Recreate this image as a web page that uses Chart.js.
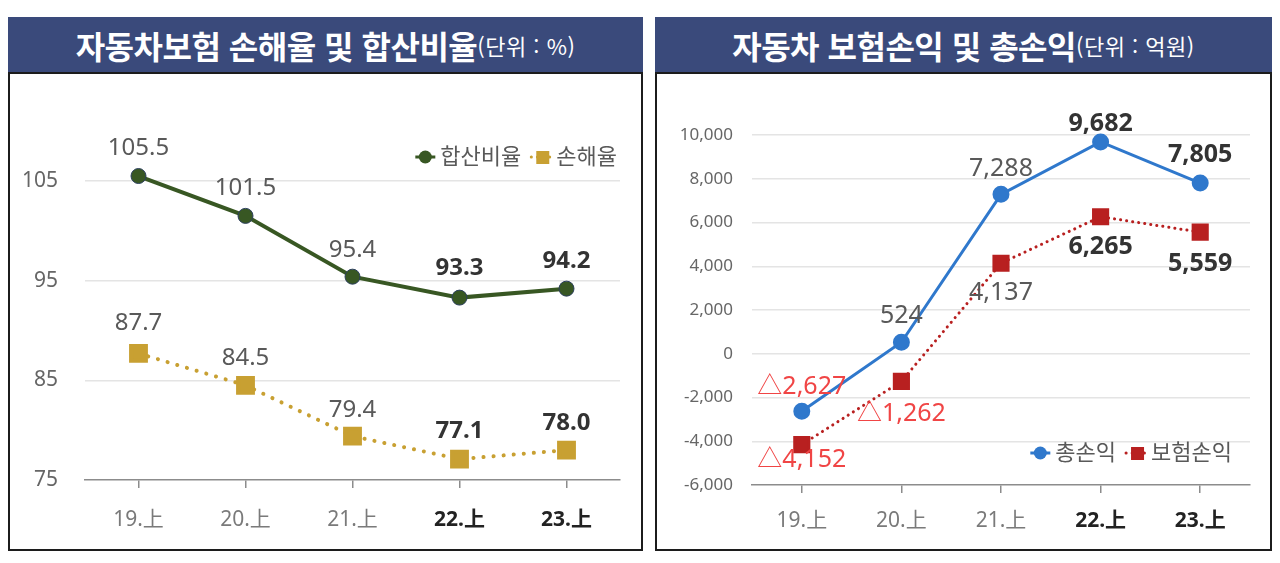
<!DOCTYPE html>
<html lang="ko">
<head>
<meta charset="utf-8">
<script src="https://cdn.jsdelivr.net/npm/chart.js@4"></script>
<style>
  body { margin: 0; background: #fff; width: 1280px; height: 563px; position: relative; overflow: hidden;
         font-family: "Noto Sans", "Noto Sans CJK KR", sans-serif; }
  .panel { position: absolute; top: 17px; }
  .head { height: 55px; background: #3a4a7b; color: #fff; display: flex; align-items: center; justify-content: center;
          font-family: "Noto Sans CJK KR", sans-serif; font-weight: 700; font-size: 32px; letter-spacing: -0.5px; }
  .head small { font-size: 22px; font-weight: 400; letter-spacing: 0.5px; }
  .body { border: 2px solid #1c1c1c; height: 475px; }
  canvas { display: block; }
</style>
</head>
<body>
<div class="panel" style="left:8px;width:635px">
  <div class="head">자동차보험 손해율 및 합산비율<small>(단위 : %)</small></div>
  <div class="body"><canvas id="ratio" width="631" height="475"></canvas></div>
</div>
<div class="panel" style="left:655px;width:617px">
  <div class="head">자동차 보험손익 및 총손익<small>(단위 : 억원)</small></div>
  <div class="body"><canvas id="profit" width="613" height="475"></canvas></div>
</div>
<script>
const periods = ['19.上', '20.上', '21.上', '22.上', '23.上']
const combinedRatio = [105.5, 101.5, 95.4, 93.3, 94.2]
const lossRatio = [87.7, 84.5, 79.4, 77.1, 78.0]
const totalProfit = [-2627, 524, 7288, 9682, 7805]
const insuranceProfit = [-4152, -1262, 4137, 6265, 5559]

const FONT = '"Noto Sans", "Noto Sans CJK KR", sans-serif'
const GREEN = '#385723'
const GOLD = '#c8a032'
const BLUE = '#2f78cc'
const RED = '#b82020'

const comma = v => Math.abs(v).toLocaleString('en-US')

// value labels next to each point
const valueLabels = {
  id: 'valueLabels',
  afterDatasetsDraw (chart, args, opts) {
    const ctx = chart.ctx
    chart.data.datasets.forEach((ds, i) => {
      chart.getDatasetMeta(i).data.forEach((pt, j) => {
        const v = ds.data[j]
        const bold = j >= opts.boldFrom
        ctx.save()
        ctx.font = (bold ? 'bold ' : '') + opts.size + 'px ' + FONT
        ctx.fillStyle = v < 0 ? '#f04545' : (bold ? '#333' : '#595959')
        ctx.textAlign = 'center'
        ctx.textBaseline = 'middle'
        ctx.fillText(opts.format(v), pt.x, pt.y + ds.labelDy[j])
        ctx.restore()
      })
    })
  }
}

// excel style legend: short line with marker, then text
const lineLegend = {
  id: 'lineLegend',
  afterDraw (chart, args, opts) {
    const ctx = chart.ctx
    const area = chart.chartArea
    ctx.save()
    ctx.font = opts.size + 'px ' + FONT
    const items = chart.data.datasets.map(ds => ({ ds, w: 24 + 3 + ctx.measureText(ds.label).width }))
    const total = items.reduce((s, it) => s + it.w, 0) + 8 * (items.length - 1)
    let x = area.right + opts.dx - total
    const y = (opts.fromBottom ? area.bottom : area.top) + opts.dy
    items.forEach(({ ds, w }) => {
      ctx.strokeStyle = ds.borderColor
      ctx.lineWidth = 3
      ctx.lineCap = ds.borderDash ? 'round' : 'butt'
      ctx.setLineDash(ds.borderDash ? [0.1, 6] : [])
      ctx.beginPath(); ctx.moveTo(x + 2, y); ctx.lineTo(x + 22, y); ctx.stroke()
      ctx.setLineDash([])
      ctx.fillStyle = ds.pointBackgroundColor
      if (ds.pointStyle === 'rect') {
        ctx.fillRect(x + 7, y - 6, 13, 13)
      } else {
        ctx.beginPath(); ctx.arc(x + 12, y, 6.5, 0, Math.PI * 2); ctx.fill()
      }
      ctx.fillStyle = '#595959'
      ctx.textAlign = 'left'
      ctx.textBaseline = 'middle'
      ctx.fillText(ds.label, x + 27, y + 1)
      x += w + 8
    })
    ctx.restore()
  }
}

function xAxis (height, padding) {
  return {
    offset: true,
    afterFit: axis => { axis.height = height },
    border: { display: true, color: '#8c8c8c', width: 1.5 },
    grid: { drawOnChartArea: false, drawTicks: true, tickLength: 8, color: '#8c8c8c', lineWidth: 1.5 },
    ticks: {
      padding,
      color: c => c.index >= 3 ? '#222' : '#7a7a7a',
      font: c => ({ family: FONT, size: 21, weight: c.index >= 3 ? 'bold' : 'normal' })
    }
  }
}

new Chart(document.getElementById('ratio'), {
  type: 'line',
  data: {
    labels: periods,
    datasets: [{
      label: '합산비율',
      data: combinedRatio,
      borderColor: GREEN,
      borderWidth: 4,
      pointRadius: 7.5,
      pointBackgroundColor: GREEN,
      pointBorderColor: '#2c3f5e',
      pointBorderWidth: 1,
      clip: false,
      labelDy: [-28, -28, -27, -29, -27]
    }, {
      label: '손해율',
      data: lossRatio,
      borderColor: GOLD,
      borderWidth: 4,
      borderDash: [0.1, 10],
      borderCapStyle: 'round',
      pointStyle: 'rect',
      pointRadius: 10.5,
      pointBackgroundColor: GOLD,
      pointBorderColor: GOLD,
      clip: false,
      labelDy: [-30, -27, -26, -28, -27]
    }]
  },
  options: {
    responsive: false,
    animation: false,
    layout: { padding: { top: 107, right: 21, left: 0, bottom: 0 } },
    plugins: {
      legend: { display: false },
      tooltip: { enabled: false },
      valueLabels: { size: 24, boldFrom: 3, format: v => v.toFixed(1) },
      lineLegend: { size: 22, dx: -3, dy: -24 }
    },
    scales: {
      x: xAxis(69, 19),
      y: {
        min: 75,
        max: 105,
        afterFit: axis => { axis.width = 75 },
        border: { display: false },
        grid: { drawTicks: false, color: c => c.tick.value === 75 ? 'transparent' : '#e4e4e4', lineWidth: 1.5 },
        ticks: { stepSize: 10, padding: 27, color: '#666', font: { family: FONT, size: 21 } }
      }
    }
  },
  plugins: [valueLabels, lineLegend]
})

new Chart(document.getElementById('profit'), {
  type: 'line',
  data: {
    labels: periods,
    datasets: [{
      label: '총손익',
      data: totalProfit,
      borderColor: BLUE,
      borderWidth: 3,
      pointRadius: 7,
      pointBackgroundColor: BLUE,
      pointBorderColor: BLUE,
      clip: false,
      labelDy: [-24, -26, -25, -18, -28]
    }, {
      label: '보험손익',
      data: insuranceProfit,
      borderColor: RED,
      borderWidth: 3,
      borderDash: [0.1, 6],
      borderCapStyle: 'round',
      pointStyle: 'rect',
      pointRadius: 10,
      pointBackgroundColor: RED,
      pointBorderColor: RED,
      clip: false,
      labelDy: [15, 33, 30, 30, 32]
    }]
  },
  options: {
    responsive: false,
    animation: false,
    layout: { padding: { top: 61, right: 20, left: 0, bottom: 0 } },
    plugins: {
      legend: { display: false },
      tooltip: { enabled: false },
      valueLabels: { size: 25, boldFrom: 3, format: v => (v < 0 ? '△' : '') + comma(v) },
      lineLegend: { size: 22, dx: -18, dy: -32, fromBottom: true }
    },
    scales: {
      x: xAxis(64, 15),
      y: {
        min: -6000,
        max: 10000,
        afterFit: axis => { axis.width = 95 },
        border: { display: false },
        grid: { drawTicks: false, color: c => c.tick.value === -6000 ? 'transparent' : '#e4e4e4', lineWidth: 1.5 },
        ticks: { stepSize: 2000, padding: 19, color: '#666', font: { family: FONT, size: 17 },
                 callback: v => (v < 0 ? '-' : '') + comma(v) }
      }
    }
  },
  plugins: [valueLabels, lineLegend]
})
</script>
</body>
</html>
